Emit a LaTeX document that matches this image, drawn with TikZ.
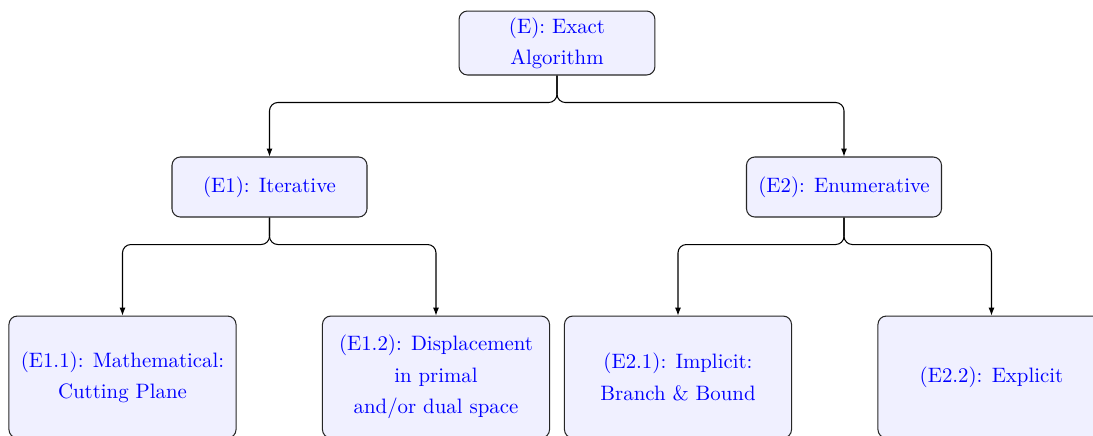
\documentclass[tikz,border=0pt]{standalone}
\usetikzlibrary{arrows.meta}
\begin{document}
\begin{tikzpicture}[x=0.48pt,y=-0.48pt,
  box/.style={draw=black!85, fill=blue!6, rounded corners=4pt, text=blue,
    align=center, font=\fontsize{10}{15}\selectfont, inner sep=0pt, line width=0.5pt},
  topbox/.style={box, minimum width=94pt, minimum height=30.7pt},
  midbox/.style={box, minimum width=93.6pt, minimum height=28.8pt},
  leafbox/.style={box, minimum width=109pt, minimum height=58.5pt},
  conn/.style={line width=0.5pt, rounded corners=4pt, -{Latex[length=3.8pt,width=2.9pt]}}]
\useasboundingbox (0,0) rectangle (1093,435);
\node[topbox] (E) at (557,43) {(E): Exact\\Algorithm};
\node[midbox] (E1) at (269.5,187) {(E1): Iterative};
\node[midbox] (E2) at (844,187) {(E2): Enumerative};
\node[leafbox] (E11) at (122.5,377) {(E1.1): Mathematical:\\Cutting Plane};
\node[leafbox] (E12) at (436,377) {(E1.2): Displacement\\in primal\\and/or dual space};
\node[leafbox] (E21) at (678,377) {(E2.1): Implicit:\\Branch \& Bound};
\node[leafbox] (E22) at (991.5,377) {(E2.2): Explicit};
\draw[conn] (E.south) -- ++(0,27) -| (E1.north);
\draw[conn] (E.south) -- ++(0,27) -| (E2.north);
\draw[conn] (E1.south) -- ++(0,27) -| (E11.north);
\draw[conn] (E1.south) -- ++(0,27) -| (E12.north);
\draw[conn] (E2.south) -- ++(0,27) -| (E21.north);
\draw[conn] (E2.south) -- ++(0,27) -| (E22.north);
\end{tikzpicture}
\end{document}
